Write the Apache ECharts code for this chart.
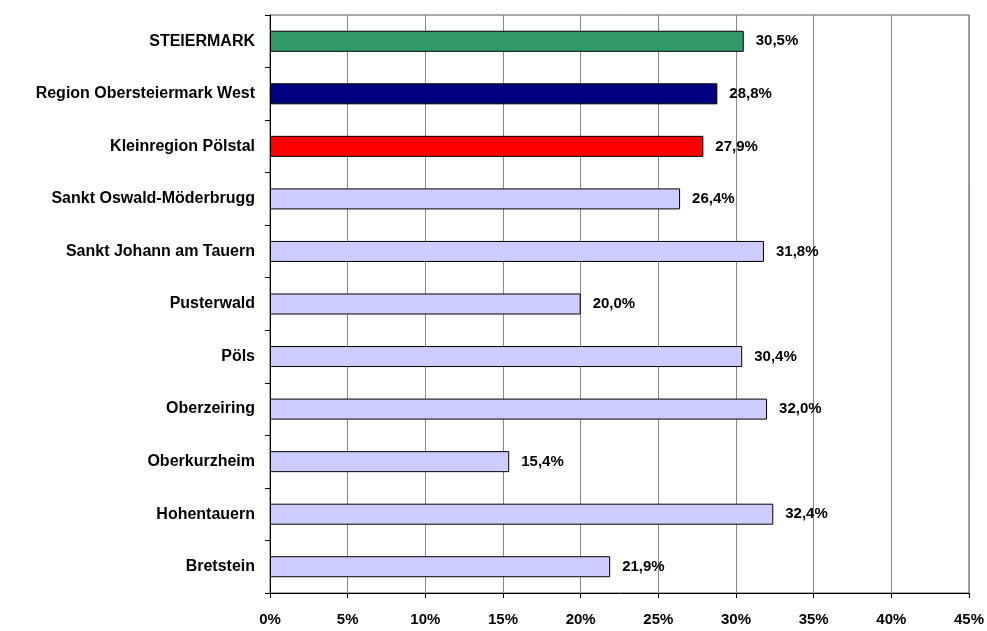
<!DOCTYPE html>
<html>
<head>
<meta charset="utf-8">
<script src="https://cdn.jsdelivr.net/npm/echarts@6/dist/echarts.min.js"></script>
<style>
html,body{margin:0;padding:0;background:#fff;}
#chart{width:987px;height:631px;}
</style>
</head>
<body>
<div id="chart"></div>
<script>
// Regionen von oben nach unten
var regionen = ['STEIERMARK', 'Region Obersteiermark West', 'Kleinregion Pölstal', 'Sankt Oswald-Möderbrugg',
	'Sankt Johann am Tauern', 'Pusterwald', 'Pöls', 'Oberzeiring', 'Oberkurzheim', 'Hohentauern', 'Bretstein'];
var anteile = [30.5, 28.8, 27.9, 26.4, 31.8, 20.0, 30.4, 32.0, 15.4, 32.4, 21.9];
var farben = ['#339966', '#000080', '#FF0000', '#CCCCFF', '#CCCCFF', '#CCCCFF', '#CCCCFF', '#CCCCFF', '#CCCCFF', '#CCCCFF', '#CCCCFF'];
var xTicks = [0, 5, 10, 15, 20, 25, 30, 35, 40, 45];

var schrift = 'Liberation Sans, Arial, sans-serif';

var myChart = echarts.init(document.getElementById('chart'));
var balken = [];
for (var i = 0; i < anteile.length; i++) {
	balken.push({ value: anteile[i], itemStyle: { color: farben[i] } });
}
var option = {
	animation: false,
	grid: {
		left: 270, right: 17, top: 15, bottom: 38,
		show: true, borderColor: '#555', borderWidth: 1
	},
	xAxis: {
		type: 'value',
		min: xTicks[0],
		max: xTicks[xTicks.length - 1],
		interval: 5,
		axisLine: { show: true, lineStyle: { color: '#000' } },
		axisTick: { show: true, length: 5, lineStyle: { color: '#000' } },
		splitLine: { show: true, lineStyle: { color: '#888', width: 1 } },
		axisLabel: {
			formatter: function (v) { return v + '%'; },
			fontFamily: schrift, fontWeight: 'bold', fontSize: 15, color: '#000', margin: 19
		}
	},
	yAxis: {
		type: 'category',
		inverse: true,
		data: regionen,
		axisLine: { show: true, lineStyle: { color: '#000' } },
		axisTick: { show: true, length: 5, lineStyle: { color: '#000' } },
		axisLabel: {
			fontFamily: schrift, fontWeight: 'bold', fontSize: 16, color: '#000', margin: 15
		}
	},
	series: [{
		type: 'bar',
		data: balken,
		barCategoryGap: '60%',
		itemStyle: { borderColor: '#000', borderWidth: 1 },
		label: {
			show: true,
			position: 'right',
			distance: 12,
			fontFamily: schrift, fontWeight: 'bold', fontSize: 15, color: '#000',
			formatter: function (p) { return p.value.toFixed(1).replace('.', ',') + '%'; }
		}
	}]
};
myChart.setOption(option);
</script>
</body>
</html>
